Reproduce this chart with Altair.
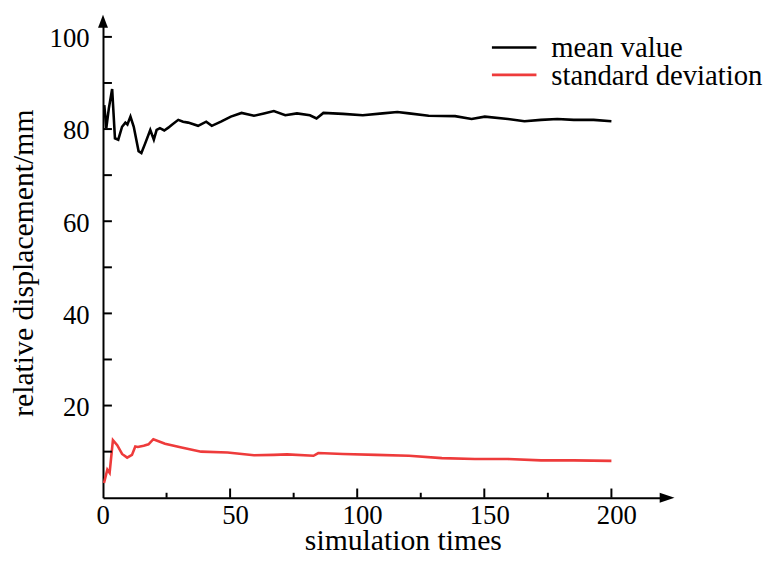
import altair as alt
import pandas as pd

# ---- data ----
mean_t = [0.5, 1.3, 2.3, 3.6, 4.7, 6.0, 7.5, 8.8, 9.6, 10.8, 12.1, 14.0, 15.1, 16.6, 18.6,
          20.0, 21.1, 22.4, 24.1, 25.7, 27.0, 29.6, 31.5, 33.5, 37.4, 40.6, 42.8, 46.4, 50.3,
          54.5, 59.4, 63.3, 67.2, 71.7, 76.3, 81.4, 84.0, 86.7, 94.4, 102.2, 110.0, 115.8,
          120.4, 128.1, 138.5, 145.0, 150.2, 159.3, 165.8, 172.3, 178.7, 185.2, 193.0, 200.0]
mean_v = [85.2, 80.2, 84.5, 88.7, 78.0, 77.7, 80.5, 81.4, 81.0, 82.7, 80.5, 75.2, 74.8, 76.9, 79.8,
          77.7, 79.8, 80.2, 79.7, 80.3, 80.9, 82.0, 81.6, 81.4, 80.7, 81.6, 80.7, 81.6, 82.7,
          83.5, 82.9, 83.4, 83.9, 83.0, 83.4, 83.0, 82.3, 83.5, 83.3, 83.0, 83.4, 83.7,
          83.4, 82.9, 82.8, 82.2, 82.7, 82.2, 81.7, 82.0, 82.2, 82.0, 82.0, 81.7]

std_t = [0.4, 1.7, 2.6, 3.9, 5.6, 7.5, 9.5, 11.4, 12.7, 13.7, 16.0, 17.9, 19.8, 24.4, 30.9, 38.6,
         49.0, 59.4, 67.2, 72.4, 82.8, 84.7, 94.4, 107.4, 120.4, 133.3, 146.3, 159.3, 172.3,
         185.2, 200.0]
std_v = [3.2, 6.1, 5.4, 12.5, 11.4, 9.5, 8.7, 9.3, 11.1, 11.0, 11.3, 11.6, 12.7, 11.7, 10.9, 10.0,
         9.8, 9.2, 9.3, 9.4, 9.1, 9.7, 9.5, 9.3, 9.1, 8.6, 8.4, 8.4, 8.1,
         8.1, 8.0]

series_names = ["mean value", "standard deviation"]
series_colors = ["#000000", "#ee3b3b"]

x_labels = [0, 50, 100, 150, 200]
y_labels = [20, 40, 60, 80, 100]
x_ticks_major = [50, 100, 150, 200]
x_ticks_minor = [25, 75, 125, 175]
y_ticks = [10, 20, 30, 40, 50, 60, 70, 80, 90, 100]

# ---- layout ----
W, H = 570, 481.5
XMAX, YMAX = 221.9, 103.4
FONT = "Liberation Serif"
LFS = 27    # tick labels
TFS = 30    # axis titles
GFS = 29    # legend labels

df = pd.concat([
    pd.DataFrame({"t": mean_t, "v": mean_v, "series": series_names[0]}),
    pd.DataFrame({"t": std_t, "v": std_v, "series": series_names[1]}),
])

xscale = alt.Scale(domain=[0, XMAX], nice=False, zero=False)
yscale = alt.Scale(domain=[0, YMAX], nice=False, zero=False)
cscale = alt.Scale(domain=series_names, range=series_colors)

x_axis = alt.Axis(
    values=x_labels, ticks=False, grid=False, domainColor="black", domainWidth=2,
    labelFont=FONT, labelFontSize=LFS, labelColor="black", labelPadding=5,
    labelOffset={"condition": {"test": "datum.value === 0", "value": -7}, "value": 5},
    title="simulation times", titleFont=FONT, titleFontSize=TFS, titleFontWeight="normal",
    titleColor="black", titleX=303, titleY=52, titleBaseline="alphabetic")
y_axis = alt.Axis(
    values=y_labels, ticks=False, grid=False, domainColor="black", domainWidth=2,
    labelFont=FONT, labelFontSize=LFS, labelColor="black", labelPadding=14, labelOffset=2,
    title="relative displacement/mm", titleFont=FONT, titleFontSize=TFS,
    titleFontWeight="normal", titleColor="black", titleX=-80, titleY=244,
    titleBaseline="middle")

X = alt.X("t:Q", scale=xscale, axis=x_axis)
Y = alt.Y("v:Q", scale=yscale, axis=y_axis)

lines = alt.Chart(df).mark_line(strokeWidth=2.6).encode(
    x=X, y=Y, color=alt.Color("series:N", scale=cscale, legend=None))

ytick = alt.Chart(pd.DataFrame({"v": y_ticks})).mark_rule(color="black", strokeWidth=2).encode(
    y=Y, x=alt.value(0), x2=alt.value(9))
xtick_major = alt.Chart(pd.DataFrame({"t": x_ticks_major})).mark_rule(color="black", strokeWidth=2).encode(
    x=X, y=alt.value(H), y2=alt.value(H - 9.3))
xtick_minor = alt.Chart(pd.DataFrame({"t": x_ticks_minor})).mark_rule(color="black", strokeWidth=2).encode(
    x=X, y=alt.value(H), y2=alt.value(H - 5))

arrow_y = alt.Chart(pd.DataFrame({"t": [0], "v": [YMAX]})).mark_point(
    shape="M0,-1L-0.77,1L0.77,1Z", size=169, filled=True, color="black", opacity=1,
    strokeWidth=0).encode(x=X, y=Y)
arrow_x = alt.Chart(pd.DataFrame({"t": [XMAX], "v": [0]})).mark_point(
    shape="M1,0L-1,-0.67L-1,0.67Z", size=225, filled=True, color="black", opacity=1,
    strokeWidth=0).encode(x=X, y=Y)

main = alt.layer(lines, ytick, xtick_major, xtick_minor, arrow_y, arrow_x)

# legend (top right), rows placed by a point scale over the series names
leg_df = pd.DataFrame({"series": series_names})
leg_y = alt.Y("series:N", scale=alt.Scale(type="point", domain=series_names,
                                          range=[26.5, 54.2], padding=0), axis=None)
leg_rule = alt.Chart(leg_df).mark_rule(strokeWidth=2.6).encode(
    y=leg_y, x=alt.value(393), x2=alt.value(438),
    color=alt.Color("series:N", scale=cscale, legend=None))
leg_text = alt.Chart(leg_df).mark_text(
    align="left", baseline="middle", font=FONT, fontSize=GFS, color="black", dy=1).encode(
    y=leg_y, x=alt.value(453), text="series:N")
legend = alt.layer(leg_rule, leg_text)

chart = alt.layer(main, legend).resolve_scale(y="independent").properties(
    width=W, height=H,
    autosize=alt.AutoSizeParams(type="none"),
    padding={"left": 96, "top": 10.5, "right": 104, "bottom": 54},
    background="white",
).configure_view(stroke=None)

chart.save("out.html", embed_options={"renderer": "svg", "actions": False})
